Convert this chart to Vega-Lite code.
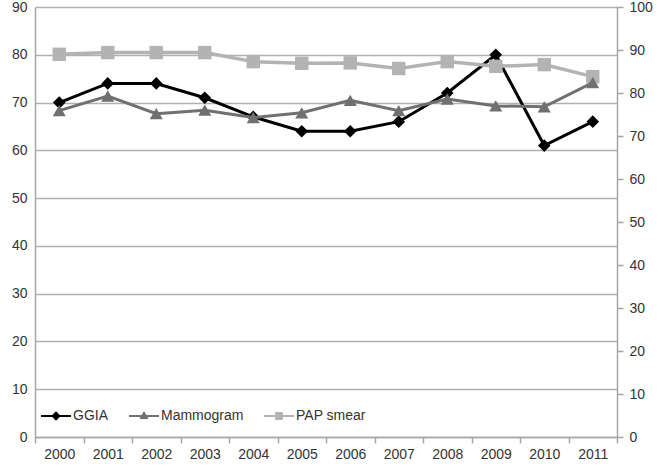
{
  "$schema": "https://vega.github.io/schema/vega-lite/v6.json",
  "width": 582,
  "height": 430,
  "autosize": "none",
  "padding": {"left": 35, "top": 7, "right": 43, "bottom": 29},
  "background": "white",
  "config": {
    "view": {"stroke": null},
    "font": "Liberation Sans",
    "axis": {"labelFont": "Liberation Sans", "labelFontSize": 14, "labelColor": "#333333", "domainColor": "#a6a6a6", "tickColor": "#a6a6a6", "gridColor": "#b0b0b0", "gridWidth": 1.5, "domainWidth": 1.5, "tickWidth": 1.5, "title": null},
    "legend": {"labelFont": "Liberation Sans", "labelFontSize": 14, "labelColor": "#333333"}
  },
  "data": {"values": [
    {"year": "2000", "series": "GGIA", "value": 70},
    {"year": "2001", "series": "GGIA", "value": 74},
    {"year": "2002", "series": "GGIA", "value": 74},
    {"year": "2003", "series": "GGIA", "value": 71},
    {"year": "2004", "series": "GGIA", "value": 67},
    {"year": "2005", "series": "GGIA", "value": 64},
    {"year": "2006", "series": "GGIA", "value": 64},
    {"year": "2007", "series": "GGIA", "value": 66},
    {"year": "2008", "series": "GGIA", "value": 72},
    {"year": "2009", "series": "GGIA", "value": 80},
    {"year": "2010", "series": "GGIA", "value": 61},
    {"year": "2011", "series": "GGIA", "value": 66},
    {"year": "2000", "series": "Mammogram", "value": 75.9},
    {"year": "2001", "series": "Mammogram", "value": 79.3},
    {"year": "2002", "series": "Mammogram", "value": 75.2},
    {"year": "2003", "series": "Mammogram", "value": 76.0},
    {"year": "2004", "series": "Mammogram", "value": 74.3},
    {"year": "2005", "series": "Mammogram", "value": 75.4},
    {"year": "2006", "series": "Mammogram", "value": 78.3},
    {"year": "2007", "series": "Mammogram", "value": 75.9},
    {"year": "2008", "series": "Mammogram", "value": 78.6},
    {"year": "2009", "series": "Mammogram", "value": 77.0},
    {"year": "2010", "series": "Mammogram", "value": 76.8},
    {"year": "2011", "series": "Mammogram", "value": 82.4},
    {"year": "2000", "series": "PAP smear", "value": 89.0},
    {"year": "2001", "series": "PAP smear", "value": 89.4},
    {"year": "2002", "series": "PAP smear", "value": 89.4},
    {"year": "2003", "series": "PAP smear", "value": 89.4},
    {"year": "2004", "series": "PAP smear", "value": 87.3},
    {"year": "2005", "series": "PAP smear", "value": 86.9},
    {"year": "2006", "series": "PAP smear", "value": 87.0},
    {"year": "2007", "series": "PAP smear", "value": 85.7},
    {"year": "2008", "series": "PAP smear", "value": 87.3},
    {"year": "2009", "series": "PAP smear", "value": 86.2},
    {"year": "2010", "series": "PAP smear", "value": 86.6},
    {"year": "2011", "series": "PAP smear", "value": 83.8}
  ]},
  "encoding": {
    "x": {"field": "year", "type": "ordinal", "scale": {"type": "band", "paddingInner": 0, "paddingOuter": 0},
      "axis": {"labelAngle": 0, "tickBand": "extent", "tickSize": 6, "labelPadding": 4, "grid": false, "orient": "bottom"}}
  },
  "layer": [
    {
      "encoding": {
        "y": {"field": "value", "type": "quantitative", "scale": {"domain": [0, 90]},
          "axis": {"orient": "left", "values": [0,10,20,30,40,50,60,70,80,90], "grid": true, "ticks": false, "labelPadding": 8}}
      },
      "layer": [
        {"transform": [{"filter": "datum.series === 'GGIA'"}], "mark": {"type": "line", "color": "#000000", "strokeWidth": 3}},
        {"transform": [{"filter": "datum.series === 'GGIA'"}], "mark": {"type": "point", "shape": "diamond", "filled": true, "color": "#000000", "opacity": 1, "size": 160}},
        {"transform": [{"filter": "datum.value < 0"}], "mark": {"type": "point", "filled": true, "opacity": 1},
          "encoding": {
            "color": {"field": "series", "type": "nominal", "scale": {"domain": ["GGIA", "Mammogram", "PAP smear"], "range": ["#000000", "#707070", "#b3b3b3"]},
              "legend": {"title": null, "orient": "none", "legendX": 6, "legendY": 394, "direction": "horizontal", "padding": 0, "symbolSize": 900, "labelOffset": 2, "columnPadding": 20, "symbolStrokeWidth": 0}},
            "shape": {"field": "series", "type": "nominal", "scale": {"domain": ["GGIA", "Mammogram", "PAP smear"], "range": [
              "M-1,-0.07L1,-0.07L1,0.07L-1,0.07Z M0,-0.32L0.32,0L0,0.32L-0.32,0Z",
              "M-1,-0.07L1,-0.07L1,0.07L-1,0.07Z M0,-0.34L0.3,0.2L-0.3,0.2Z",
              "M-1,-0.07L1,-0.07L1,0.07L-1,0.07Z M-0.26,-0.26L0.26,-0.26L0.26,0.26L-0.26,0.26Z"]},
              "legend": {"title": null}}
          }
        }
      ]
    },
    {
      "encoding": {
        "y": {"field": "value", "type": "quantitative", "scale": {"domain": [0, 100]},
          "axis": {"orient": "right", "values": [0,10,20,30,40,50,60,70,80,90,100], "grid": false, "ticks": true, "tickSize": 6, "labelPadding": 6}}
      },
      "layer": [
        {"transform": [{"filter": "datum.series === 'PAP smear'"}], "mark": {"type": "line", "color": "#b3b3b3", "strokeWidth": 3.5}},
        {"transform": [{"filter": "datum.series === 'PAP smear'"}], "mark": {"type": "point", "shape": "square", "filled": true, "color": "#b3b3b3", "opacity": 1, "size": 180}},
        {"transform": [{"filter": "datum.series === 'Mammogram'"}], "mark": {"type": "line", "color": "#707070", "strokeWidth": 3}},
        {"transform": [{"filter": "datum.series === 'Mammogram'"}], "mark": {"type": "point", "shape": "triangle-up", "filled": true, "color": "#707070", "opacity": 1, "size": 170}}
      ]
    }
  ],
  "resolve": {"scale": {"y": "independent"}}
}
